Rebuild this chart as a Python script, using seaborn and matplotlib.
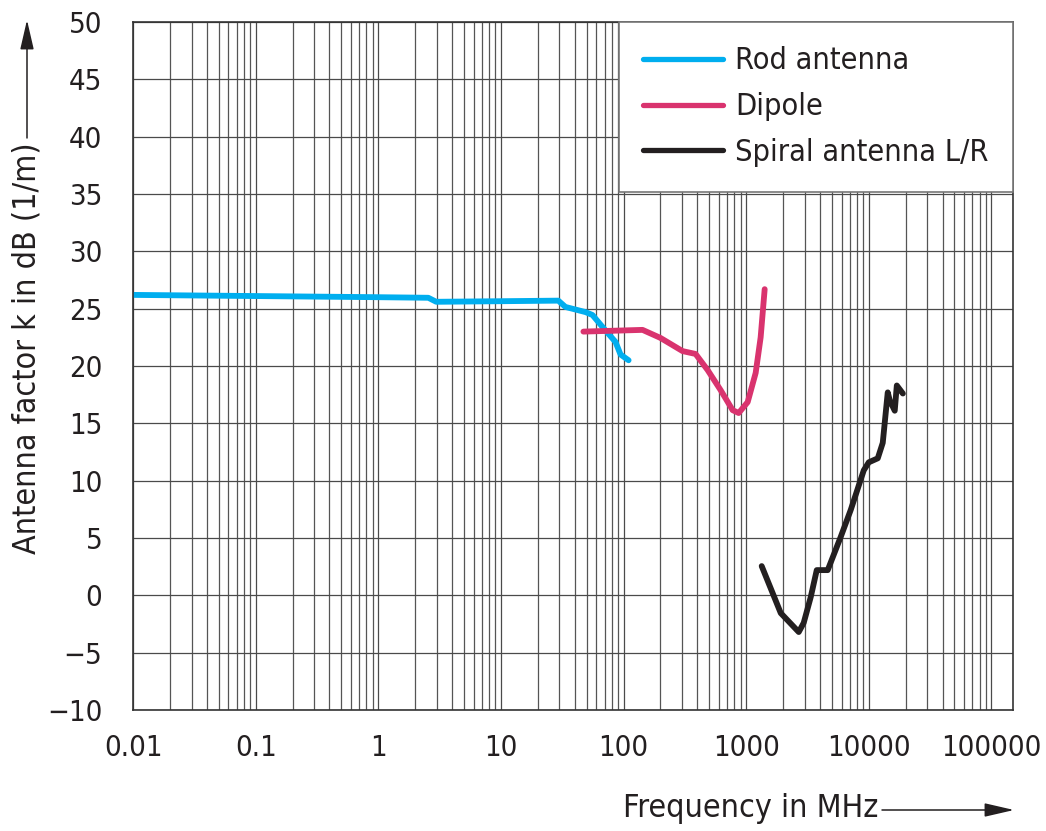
import numpy as np
import pandas as pd
import matplotlib
matplotlib.use("Agg")
import matplotlib.pyplot as plt
import seaborn as sns
from matplotlib import font_manager
from matplotlib.ticker import FixedLocator, LogLocator, NullFormatter

# Data (frequency in MHz, antenna factor in dB 1/m)
rod_freq = [0.01, 0.1, 1, 2.56, 2.97, 10, 29.4, 33.6, 49, 55.8, 68.7, 86, 94.6, 110]
rod_k = [26.2, 26.1, 26.0, 25.95, 25.6, 25.65, 25.7, 25.15, 24.7, 24.45, 23.3, 22.1, 21.0, 20.5]

dipole_freq = [47.1, 143, 200, 303, 387, 485, 619, 776, 869, 1029, 1196, 1313, 1416]
dipole_k = [23.0, 23.15, 22.45, 21.3, 21.05, 19.65, 17.9, 16.15, 15.9, 16.85, 19.4, 22.5, 26.7]

spiral_freq = [1339, 1915, 2685, 2947, 3363, 3765, 4627, 5906, 7128, 9100, 10000,
               11840, 13000, 14280, 14830, 16280, 16930, 18960]
spiral_k = [2.55, -1.55, -3.2, -2.4, -0.15, 2.2, 2.2, 5.1, 7.45, 10.9, 11.6,
            11.95, 13.3, 17.7, 17.0, 16.1, 18.3, 17.6]

series_names = ["Rod antenna", "Dipole", "Spiral antenna L/R"]
series_colors = ["#00AEEF", "#D9336E", "#231F20"]

x_ticks = [0.01, 0.1, 1, 10, 100, 1000, 10000, 100000]
x_tick_labels = ["0.01", "0.1", "1", "10", "100", "1000", "10000", "100000"]
y_ticks = list(range(-10, 55, 5))

# Long-form table for seaborn
df = pd.concat([
    pd.DataFrame({"freq": rod_freq, "k": rod_k, "antenna": series_names[0]}),
    pd.DataFrame({"freq": dipole_freq, "k": dipole_k, "antenna": series_names[1]}),
    pd.DataFrame({"freq": spiral_freq, "k": spiral_k, "antenna": series_names[2]}),
], ignore_index=True)

sns.set_theme(style="white")
installed = {f.name for f in font_manager.fontManager.ttflist}
if "Liberation Sans Narrow" in installed:
    plt.rcParams["font.family"] = ["Liberation Sans Narrow", "DejaVu Sans"]
    plt.rcParams["font.stretch"] = "normal"
    TICK_FS, LEG_FS, CAP_FS = 26, 26, 26
else:
    plt.rcParams["font.family"] = ["DejaVu Sans"]
    plt.rcParams["font.stretch"] = "condensed"
    TICK_FS, LEG_FS, CAP_FS = 21, 22, 23

TXT = "#231F20"
W, H = 1046, 831

fig = plt.figure(figsize=(W / 100, H / 100), dpi=100)
ax = fig.add_axes([133 / W, 1 - 710 / H, (1013 - 133) / W, (710 - 22) / H])

sns.lineplot(
    data=df, x="freq", y="k", hue="antenna",
    hue_order=series_names, palette=dict(zip(series_names, series_colors)),
    estimator=None, sort=False, linewidth=4.2, ax=ax,
)
for line in ax.get_lines():
    line.set_solid_capstyle("round")
    line.set_solid_joinstyle("round")

ax.set_xscale("log")
ax.set_xlim(0.01, 1.5e5)
ax.set_ylim(-10, 50)

ax.xaxis.set_major_locator(FixedLocator(x_ticks))
ax.set_xticklabels(x_tick_labels)
ax.xaxis.set_minor_locator(LogLocator(base=10, subs=np.arange(2, 10), numticks=20))
ax.xaxis.set_minor_formatter(NullFormatter())
ax.yaxis.set_major_locator(FixedLocator(y_ticks))
ax.set_yticklabels([f"{v}".replace("-", "\u2212") for v in y_ticks])

ax.grid(which="major", axis="both", color="#4a4a4a", linewidth=0.9)
ax.grid(which="minor", axis="x", color="#555555", linewidth=0.9)
ax.tick_params(axis="both", which="both", length=0, labelsize=TICK_FS, colors=TXT)
ax.tick_params(axis="x", pad=17)
ax.tick_params(axis="y", pad=22)
for s in ax.spines.values():
    s.set_color("#333333")
    s.set_linewidth(1.2)
ax.set_xlabel("")
ax.set_ylabel("")

leg = ax.legend(
    loc="upper right", borderaxespad=0, fontsize=LEG_FS, frameon=True, fancybox=False,
    handlelength=2.6, handletextpad=0.4, labelspacing=0.55, borderpad=0.8,
    framealpha=1, title=None,
)
leg.get_frame().set_edgecolor("#777777")
leg.get_frame().set_linewidth(1.2)
for h in leg.get_lines():
    h.set_linewidth(3.8)
    h.set_solid_capstyle("round")
for t in leg.get_texts():
    t.set_color(TXT)

# Axis captions with arrows, as on the original sheet
fig.text(27 / W, 1 - 348 / H, "Antenna factor k in dB (1/m)", rotation=90,
         ha="center", va="center", fontsize=CAP_FS, color=TXT)
fig.text(751 / W, 1 - 808 / H, "Frequency in MHz", ha="center", va="center",
         fontsize=CAP_FS, color=TXT)
arrow = dict(arrowstyle="-|>,head_length=1.3,head_width=0.3", color=TXT,
             lw=1.1, mutation_scale=14, shrinkA=0, shrinkB=0)
fig.add_artist(matplotlib.patches.FancyArrowPatch(
    (27 / W, 1 - 138 / H), (27 / W, 1 - 20 / H), transform=fig.transFigure, **arrow))
fig.add_artist(matplotlib.patches.FancyArrowPatch(
    (882 / W, 1 - 810 / H), (1014 / W, 1 - 810 / H), transform=fig.transFigure, **arrow))

fig.savefig("out.png", dpi=100, facecolor="white")
